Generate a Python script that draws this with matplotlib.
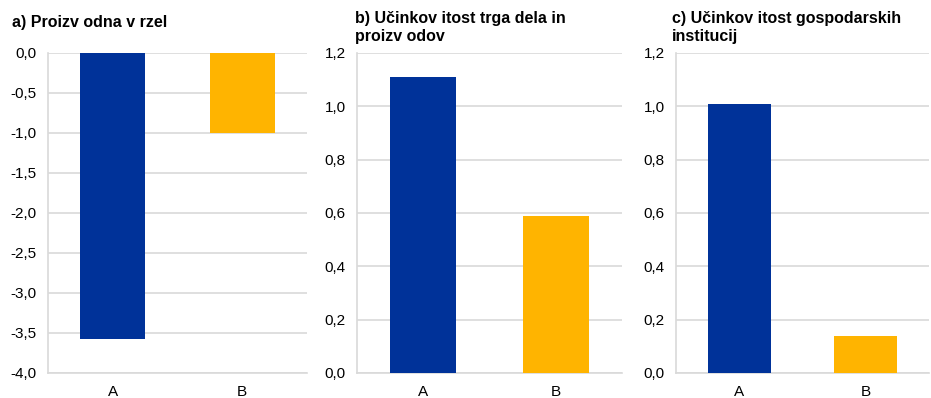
import matplotlib
matplotlib.use("Agg")
import matplotlib.pyplot as plt

plt.rcParams['font.family'] = ['Liberation Sans', 'DejaVu Sans']

categories = ["A", "B"]
vals_a = [-3.57, -1.0]
vals_b = [1.11, 0.59]
vals_c = [1.01, 0.14]
colors = ["#003299", "#FFB400"]

titles = ["a) Proizv odna v rzel",
          "b) Učinkov itost trga dela in\nproizv odov",
          "c) Učinkov itost gospodarskih\ninstitucij"]

fig = plt.figure(figsize=(9.31, 3.98), dpi=100)
W, H = 931, 398
boxes = [(48, 307), (357, 622), (676, 929)]
top, bot = 53, 373
grid_c = "#d9d9d9"

def fmt(v):
    return f"{v:.1f}".replace(".", ",").replace("-0,0", "0,0")

specs = [
    (vals_a, (-4.0, 0.0), [-4.0 + 0.5 * i for i in range(9)]),
    (vals_b, (0.0, 1.2), [0.2 * i for i in range(7)]),
    (vals_c, (0.0, 1.2), [0.2 * i for i in range(7)]),
]
title_pos = [(12, 15), (355, 11), (672, 11)]

for i, ((vals, ylim, ticks), (x0, x1)) in enumerate(zip(specs, boxes)):
    ax = fig.add_axes([x0 / W, 1 - bot / H, (x1 - x0) / W, (bot - top) / H])
    x = list(range(len(categories)))
    ax.bar(x, vals, width=0.5, color=colors, zorder=3)
    ax.set_xlim(-0.5, 1.5)
    ax.set_ylim(*ylim)
    ax.set_yticks(ticks)
    ax.set_yticklabels([fmt(t) for t in ticks], fontsize=11)
    ax.set_xticks(x)
    ax.set_xticklabels(categories, fontsize=11)
    ax.tick_params(axis='y', length=0, pad=8)
    ax.tick_params(axis='x', length=0, pad=9)
    ax.grid(axis='y', color=grid_c, linewidth=1.2, zorder=0)
    for s in ['top', 'right']:
        ax.spines[s].set_visible(False)
    ax.spines['left'].set_color(grid_c)
    ax.spines['left'].set_linewidth(1.2)
    ax.spines['bottom'].set_color(grid_c)
    ax.spines['bottom'].set_linewidth(1.2)
    tx, ty = title_pos[i]
    fig.text(tx / W, 1 - ty / H, titles[i], fontsize=11.5, fontweight='bold',
             ha='left', va='top', linespacing=1.25)

fig.savefig("out.png", dpi=100)
